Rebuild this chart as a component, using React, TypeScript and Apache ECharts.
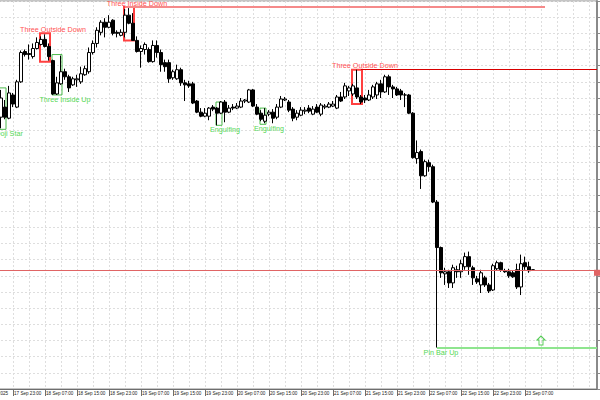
import React, { useEffect, useRef } from 'react';
import * as echarts from 'echarts';

// ---------- categories (hourly bars, first bar 17 Sep 2025 15:00) ----------
const MONTHS = ['Jan', 'Feb', 'Mar', 'Apr', 'May', 'Jun', 'Jul', 'Aug', 'Sep', 'Oct', 'Nov', 'Dec'];
const BAR_COUNT = 155;
const categories: string[] = [];
for (let i = 0; i < BAR_COUNT; i++) {
  const d = new Date(Date.UTC(2025, 8, 17, 15 + i));
  const hh = String(d.getUTCHours()).padStart(2, '0');
  categories.push(`${d.getUTCDate()} ${MONTHS[d.getUTCMonth()]} ${hh}:00`);
}

// time-axis labels, one every 8 bars
const tickLabels = [
  '17 Sep 2025', '17 Sep 23:00', '18 Sep 07:00', '18 Sep 15:00', '18 Sep 23:00', '19 Sep 07:00',
  '19 Sep 15:00', '19 Sep 23:00', '20 Sep 07:00', '20 Sep 15:00', '20 Sep 23:00', '21 Sep 07:00',
  '21 Sep 15:00', '21 Sep 23:00', '22 Sep 07:00', '22 Sep 15:00', '22 Sep 23:00', '23 Sep 07:00',
];
const TICK_EVERY = 8;

// ---------- OHLC (first drawn bar is category index FIRST) ----------
const FIRST = 5;
const open = [
  4493, 4503, 4492, 4515, 4503, 4528, 4558, 4556, 4553, 4561,
  4565, 4570, 4563, 4549, 4516, 4526, 4538, 4533, 4525, 4530,
  4528, 4535, 4538, 4557, 4566, 4577, 4587, 4582, 4589, 4577,
  4574, 4577, 4594, 4586, 4569, 4558, 4560, 4560, 4548, 4564,
  4557, 4547, 4547, 4532, 4531, 4540, 4527, 4526, 4526, 4509,
  4498, 4494, 4494, 4503, 4502, 4497, 4508, 4498, 4503, 4502,
  4503, 4509, 4508, 4520, 4503, 4497, 4489, 4496, 4498, 4493,
  4503, 4510, 4508, 4501, 4493, 4495, 4499, 4502, 4496, 4503,
  4496, 4503, 4503, 4504, 4502, 4513, 4513, 4519, 4516, 4522,
  4513, 4512, 4510, 4513, 4515, 4526, 4518, 4533, 4523, 4521,
  4519, 4515, 4515, 4497, 4452, 4459, 4435, 4448, 4444, 4409,
  4364, 4338, 4340, 4329, 4342, 4340, 4345, 4355, 4344, 4333,
  4327, 4334, 4327, 4322, 4343, 4349, 4341, 4340, 4339, 4342,
  4325, 4349, 4345, 4342,
];
const close = [
  4512, 4493, 4517, 4506, 4528, 4557, 4555, 4555, 4561, 4567,
  4570, 4563, 4553, 4516, 4527, 4538, 4533, 4522, 4531, 4531,
  4536, 4541, 4557, 4566, 4579, 4587, 4582, 4587, 4576, 4576,
  4577, 4594, 4586, 4569, 4558, 4561, 4565, 4548, 4564, 4557,
  4545, 4543, 4531, 4538, 4540, 4527, 4525, 4524, 4507, 4498,
  4494, 4497, 4502, 4501, 4497, 4508, 4498, 4502, 4502, 4504,
  4509, 4510, 4520, 4504, 4496, 4491, 4495, 4498, 4492, 4503,
  4511, 4511, 4500, 4492, 4497, 4500, 4500, 4499, 4501, 4498,
  4505, 4504, 4506, 4506, 4513, 4509, 4524, 4522, 4524, 4513,
  4508, 4510, 4515, 4523, 4526, 4518, 4533, 4523, 4521, 4515,
  4515, 4515, 4497, 4453, 4458, 4435, 4449, 4444, 4409, 4364,
  4339, 4340, 4329, 4344, 4340, 4348, 4355, 4345, 4334, 4330,
  4339, 4327, 4321, 4346, 4349, 4342, 4340, 4336, 4335, 4325,
  4348, 4345, 4341, 4342,
];
const high = [
  4520, 4510, 4524, 4517, 4530, 4559, 4560, 4565, 4566, 4572,
  4573, 4575, 4566, 4550, 4533, 4554, 4541, 4535, 4533, 4535,
  4543, 4544, 4562, 4569, 4582, 4589, 4591, 4594, 4590, 4579,
  4580, 4600, 4601, 4596, 4573, 4564, 4567, 4562, 4569, 4569,
  4560, 4550, 4550, 4540, 4545, 4542, 4530, 4529, 4528, 4510,
  4502, 4502, 4503, 4505, 4503, 4509, 4510, 4505, 4506, 4507,
  4512, 4511, 4521, 4521, 4506, 4500, 4502, 4500, 4501, 4506,
  4514, 4513, 4510, 4503, 4500, 4503, 4503, 4505, 4504, 4506,
  4507, 4506, 4508, 4509, 4515, 4518, 4527, 4524, 4526, 4540,
  4515, 4515, 4520, 4525, 4528, 4530, 4535, 4535, 4525, 4523,
  4521, 4517, 4516, 4498, 4470, 4461, 4451, 4451, 4446, 4411,
  4365, 4344, 4342, 4347, 4346, 4352, 4359, 4360, 4346, 4336,
  4342, 4336, 4329, 4348, 4351, 4350, 4343, 4343, 4341, 4348,
  4357, 4355, 4350, 4342,
];
const low = [
  4482, 4491, 4491, 4503, 4502, 4527, 4553, 4550, 4551, 4560,
  4564, 4562, 4549, 4515, 4515, 4525, 4530, 4518, 4524, 4523,
  4526, 4534, 4536, 4555, 4562, 4574, 4572, 4581, 4574, 4572,
  4573, 4572, 4585, 4569, 4557, 4542, 4555, 4547, 4547, 4552,
  4538, 4538, 4527, 4530, 4530, 4524, 4509, 4522, 4506, 4497,
  4493, 4493, 4490, 4499, 4485, 4496, 4488, 4497, 4500, 4501,
  4502, 4507, 4507, 4503, 4495, 4489, 4487, 4494, 4487, 4491,
  4502, 4509, 4498, 4489, 4490, 4494, 4496, 4497, 4495, 4497,
  4494, 4501, 4502, 4503, 4501, 4508, 4511, 4514, 4514, 4511,
  4506, 4507, 4509, 4511, 4511, 4512, 4517, 4515, 4512, 4514,
  4510, 4503, 4496, 4452, 4447, 4422, 4434, 4439, 4408, 4265,
  4334, 4327, 4324, 4324, 4334, 4334, 4342, 4337, 4327, 4328,
  4319, 4325, 4319, 4321, 4341, 4340, 4339, 4334, 4334, 4323,
  4317, 4342, 4339, 4342,
];

// ---------- candlestick pattern marks ----------
const patName = ['Doji Star', 'Three Outside Down', 'Three Inside Up', 'Three Inside Down', 'Engulfing', 'Engulfing', 'Three Outside Down', 'Pin Bar Up'];
const patStart = [4, 15, 18, 36, 59, 70, 93, 114];
const patEnd = [6, 17, 20, 38, 60, 71, 95, 114];
const patHigh = [4522, 4576, 4555, 4602, 4508, 4502, 4540, 4265];
const patLow = [4481, 4548, 4515, 4569, 4485, 4486, 4506, 4265];
const patBull = [true, false, true, false, true, true, false, true];
const patBoxed = [true, true, true, true, true, true, true, false];

// ---------- horizontal levels drawn from patterns ----------
const levelStart = [36, 95, 114];
const levelEnd = [141, 154, 154];
const levelPrice = [4602, 4540, 4265];
const levelKind = ['resistanceMajor', 'resistance', 'support'];

// arrow object
const arrowIndex = 140;
const arrowPrice = 4272;

// ---------- styles ----------
const RED_TEXT = '#ff5252';
const RED_BOX = '#ff4040';
const GREEN_TEXT = '#55d855';
const GREEN_BOX = '#4cbb4c';
const levelStyle: Record<string, { color: string; width: number }> = {
  resistanceMajor: { color: '#f58a8a', width: 2 },
  resistance: { color: '#d80000', width: 1 },
  support: { color: '#8fe58f', width: 2 },
};

const candleData = categories.map((_, k) => {
  const j = k - FIRST;
  if (j < 0 || j >= open.length) return ['-', '-', '-', '-'];
  return [open[j], close[j], low[j], high[j]];
});
const lastClose = close[close.length - 1];

const patternData = patName.map((_, i) => [patStart[i], patEnd[i], patHigh[i], patLow[i]]);

const levelLines: any[] = levelPrice.map((p, i) => [
  { coord: [categories[levelStart[i]], p], lineStyle: { ...levelStyle[levelKind[i]], type: 'solid' } },
  { coord: [categories[levelEnd[i]], p] },
]);
levelLines.push([
  { coord: [categories[0], lastClose], lineStyle: { color: '#e06464', width: 1, type: 'solid' } },
  { coord: [categories[BAR_COUNT - 1], lastClose], symbol: 'rect', symbolSize: [6, 6], symbolOffset: [3, 0], itemStyle: { color: '#d00000' } },
]);

const FONT = '"Liberation Sans", Arial, sans-serif';
const tickShown = (index: number) => index % TICK_EVERY === 0 && index / TICK_EVERY < tickLabels.length;

const option: any = {
  animation: false,
  backgroundColor: '#ffffff',
  textStyle: { fontFamily: FONT },
  grid: {
    left: -19,
    right: 3,
    top: 1,
    bottom: 11,
    show: true,
    borderColor: '#8a8a8a',
    borderWidth: 1,
    containLabel: false,
    outerBoundsMode: 'none',
  },
  xAxis: {
    type: 'category',
    data: categories,
    boundaryGap: false,
    axisLine: { show: true, lineStyle: { color: '#6e6e6e', width: 1 } },
    axisTick: { show: true, interval: tickShown, length: 7, lineStyle: { color: '#6e6e6e' } },
    axisLabel: {
      interval: tickShown,
      formatter: (_v: string, index: number) => tickLabels[index / TICK_EVERY] ?? '',
      fontSize: 4.6,
      color: '#222',
      align: 'left',
      margin: 2,
      padding: [0, 0, 0, 1],
      fontFamily: FONT,
    },
    splitLine: { show: true, interval: 3, lineStyle: { type: [2, 2], color: '#dedede', width: 1 } },
  },
  yAxis: {
    type: 'value',
    position: 'right',
    min: 4224,
    max: 4608,
    interval: 16,
    axisLine: { show: true, lineStyle: { color: '#8a8a8a', width: 2 } },
    axisTick: { show: true, length: 3, lineStyle: { color: '#8a8a8a' } },
    axisLabel: { show: false },
    splitLine: { show: true, lineStyle: { type: [2, 2], color: '#dedede', width: 1 } },
  },
  series: [
    {
      type: 'candlestick',
      data: candleData,
      barWidth: 3,
      silent: true,
      itemStyle: {
        color: '#ffffff',
        color0: '#000000',
        borderColor: '#000000',
        borderColor0: '#000000',
        borderWidth: 1,
      },
      markLine: {
        silent: true,
        symbol: ['none', 'none'],
        label: { show: false },
        emphasis: { disabled: true },
        data: levelLines,
      },
      markPoint: {
        silent: true,
        symbol: 'path://M4,0 L8,4 L6,4 L6,9 L2,9 L2,4 L0,4 Z',
        symbolSize: [8, 9],
        itemStyle: { color: 'rgba(0,0,0,0)', borderColor: '#55cc55', borderWidth: 1 },
        label: { show: false },
        data: [{ coord: [categories[arrowIndex], arrowPrice] }],
      },
    },
    {
      type: 'custom',
      silent: true,
      data: patternData,
      encode: { x: [0, 1], y: [2, 3] },
      renderItem: (params: any, api: any) => {
        const i = params.dataIndex;
        const tl = api.coord([api.value(0), api.value(2)]);
        const br = api.coord([api.value(1), api.value(3)]);
        const bull = patBull[i];
        const children: any[] = [];
        if (patBoxed[i]) {
          children.push({
            type: 'rect',
            shape: { x: tl[0] - 1, y: tl[1], width: br[0] - tl[0] + 2, height: br[1] - tl[1] },
            style: { fill: 'rgba(0,0,0,0)', stroke: bull ? GREEN_BOX : RED_BOX, lineWidth: bull ? 1 : 2 },
          });
        }
        children.push({
          type: 'text',
          style: {
            text: patName[i],
            x: br[0] + 4,
            y: bull ? br[1] + 1 : tl[1] - 0.5,
            align: 'center',
            verticalAlign: bull ? 'top' : 'bottom',
            textAlign: 'center',
            textVerticalAlign: bull ? 'top' : 'bottom',
            fill: bull ? GREEN_TEXT : RED_TEXT,
            font: `7.2px ${FONT}`,
          },
        });
        return { type: 'group', children };
      },
    },
  ],
};

export default function App() {
  const ref = useRef<HTMLDivElement>(null);
  useEffect(() => {
    const chart = echarts.init(ref.current!, null, { renderer: 'svg' });
    chart.setOption(option);
    return () => chart.dispose();
  }, []);
  return (
    <div
      ref={ref}
      style={{ position: 'fixed', left: 0, top: 0, width: 600, height: 400, background: '#ffffff' }}
    />
  );
}
